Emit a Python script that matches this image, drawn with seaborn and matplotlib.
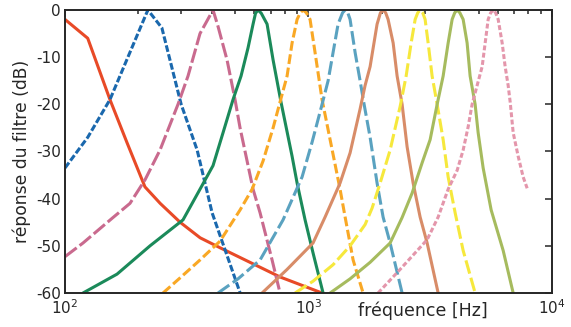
import pandas as pd
import seaborn as sns
import matplotlib
matplotlib.use("Agg")
from matplotlib import pyplot as plt
from matplotlib.ticker import LogLocator, NullFormatter, FixedLocator

# filter responses: frequency (Hz) / response (dB)
lp_f = [100, 124, 153, 180, 213, 246, 297, 359, 433, 764, 1137]
lp_db = [-2, -6, -19, -28.2, -37.5, -41, -45, -48.3, -50.4, -56.6, -60]

b1_f = [100, 124, 153, 219, 250, 300, 349, 402, 524]
b1_db = [-33.5, -27, -19, 0, -3.8, -20, -29.7, -43, -60]

b2_f = [100, 118.6, 157.5, 184.9, 213.2, 245.6, 291.2, 320.1, 358.5, 405.5,
        425.2, 463, 499.3, 523.6, 559.5, 592.1, 632.7, 708.8, 764.2]
b2_db = [-52.3, -49.4, -44, -41, -36, -29.7, -20, -14, -5, 0,
         -3.5, -10.6, -19, -25, -32, -38, -43, -53, -60]

b3_f = [118.6, 163.6, 223.5, 305.3, 358.5, 405.5, 445.9, 489.9, 528.5, 564.8,
        592.1, 606, 620.9, 640, 676.1, 715.6, 771, 856.3, 898, 968.3, 1044, 1148]
b3_db = [-60, -56, -50, -44.5, -38, -33, -26, -19, -14, -8,
         -3, -0.7, 0, -0.7, -3, -10.6, -19.5, -31, -36.7, -44.5, -51.5, -60]

b4_f = [252.7, 296.9, 358.5, 433.4, 523.6, 586.8, 651, 715.6, 764.2, 816.8,
        856.3, 898, 925, 950.2, 980, 1015, 1064, 1137, 1227, 1348, 1414, 1525, 1676]
b4_db = [-60, -56.8, -53, -49, -42.4, -38, -32, -25, -19.5, -14,
         -7, -2, -0.6, 0, -0.6, -2, -9, -19, -27.5, -38, -43.9, -53, -60]

b5_f = [425.2, 513.7, 632.7, 786.3, 941.3, 1035, 1137, 1204, 1262, 1323, 1380,
        1414, 1450, 1482, 1554, 1629, 1692, 1791, 1913, 2025, 2164, 2424]
b5_db = [-60, -57, -53, -44.5, -35.4, -28, -20, -15, -9, -3, -0.6,
         0, -0.6, -2, -9, -15, -20, -27, -36.7, -43.9, -49.4, -60]

b6_f = [644.8, 816.8, 1044, 1170, 1348, 1482, 1629, 1708, 1791, 1913, 1975,
        2025, 2075, 2123, 2227, 2312, 2424, 2541, 2690, 2874, 3071, 3408]
b6_db = [-60, -55, -49.4, -43.9, -36.7, -30.3, -21, -16, -12, -3, -0.6,
         0, -0.6, -2, -7, -14, -20, -29, -36.7, -43.9, -49.4, -60]

b7_f = [880.9, 1044, 1262, 1482, 1708, 1825, 1969, 2164, 2378, 2518, 2640,
        2742, 2810, 2874, 2945, 3013, 3100, 3219, 3376, 3573, 3746, 4002, 4317, 4835]
b7_db = [-60, -57.5, -54, -50, -45.5, -42, -36.7, -29.7, -20.5, -14, -7,
         -2, -0.6, 0, -0.6, -2, -7, -14, -20, -27.5, -35.4, -43, -51, -60]

b8_f = [1227, 1482, 1791, 2164, 2424, 2665, 2929, 3159, 3376, 3573, 3746,
        3890, 3985, 4079, 4185, 4317, 4482, 4611, 4835, 4974, 5216, 5626, 6303, 6928]
b8_db = [-60, -57, -53.5, -49.4, -44, -38.8, -32.4, -27.5, -20, -14, -7,
         -2, -0.6, 0, -0.6, -2, -7, -14, -20, -26, -33.5, -42.4, -51, -60]

b9_f = [1931, 2378, 3071, 3408, 3746, 4079, 4317, 4525, 4699, 4927, 5167, 5316,
        5469, 5600, 5734, 5870, 6012, 6243, 6422, 6607, 6734, 6928, 7262, 7614, 7908]
b9_db = [-60, -55, -48.7, -43.9, -38, -34, -29.7, -24.8, -20, -16, -12, -7,
         -2, -0.6, 0, -0.6, -2, -7, -12, -16, -19.5, -26, -31, -35.4, -37.8]

names = ["lp", "b1", "b2", "b3", "b4", "b5", "b6", "b7", "b8", "b9"]
freqs = [lp_f, b1_f, b2_f, b3_f, b4_f, b5_f, b6_f, b7_f, b8_f, b9_f]
resps = [lp_db, b1_db, b2_db, b3_db, b4_db, b5_db, b6_db, b7_db, b8_db, b9_db]

colors = {"lp": "#e84a27", "b1": "#1a68ad", "b2": "#c96a8e", "b3": "#1b8a5a",
          "b4": "#f9a825", "b5": "#5aa2c0", "b6": "#d88c68", "b7": "#f6e83c",
          "b8": "#a6bb5e", "b9": "#e496ab"}
dashes = {"lp": "", "b1": (2.2, 0.8), "b2": (4.8, 1.2), "b3": "",
          "b4": (3.2, 1.2), "b5": (4.5, 1.4), "b6": "", "b7": (4.5, 1.4),
          "b8": "", "b9": (1.6, 0.8)}

rows = []
for n, fs, ds in zip(names, freqs, resps):
    for f, d in zip(fs, ds):
        rows.append({"filtre": n, "freq": f, "db": d})
df = pd.DataFrame(rows)

sns.set_theme(style="white")
plt.rcParams["font.family"] = ["DejaVu Sans"]
plt.rcParams["axes.unicode_minus"] = False
plt.rcParams["mathtext.default"] = "regular"

fig = plt.figure(figsize=(5.71, 3.27), dpi=100)
ax = fig.add_axes([0.1138, 0.104, 0.8529, 0.8655])
ax.set_xscale("log")

sns.lineplot(data=df, x="freq", y="db", hue="filtre", style="filtre",
             hue_order=names, style_order=names, palette=colors, dashes=dashes,
             estimator=None, sort=False, linewidth=2.2, legend=False, ax=ax)

ax.set_xlim(100, 10000)
ax.set_ylim(-60, 0)
ax.yaxis.set_major_locator(FixedLocator([-60, -50, -40, -30, -20, -10, 0]))
ax.xaxis.set_major_locator(LogLocator(base=10))
ax.xaxis.set_minor_locator(LogLocator(base=10, subs=range(2, 10)))
ax.xaxis.set_minor_formatter(NullFormatter())

for s in ax.spines.values():
    s.set_color("#262626")
    s.set_linewidth(1.4)
ax.tick_params(which="both", direction="in", top=True, right=True,
               colors="#262626", width=1.1)
ax.tick_params(which="major", length=5)
ax.tick_params(which="minor", length=3)
ax.tick_params(axis="y", labelsize=11, pad=3)
ax.tick_params(axis="x", labelsize=11, pad=4)

ax.set_ylabel("réponse du filtre (dB)", fontsize=12.3, color="#262626")
ax.yaxis.label.set_va("center")
ax.yaxis.set_label_coords(-0.089, 0.5)
ax.set_xlabel("fréquence [Hz]", fontsize=12.5, color="#262626")
ax.xaxis.label.set_va("top")
ax.xaxis.set_label_coords(0.735, -0.03)

fig.savefig("out.png", dpi=100)
